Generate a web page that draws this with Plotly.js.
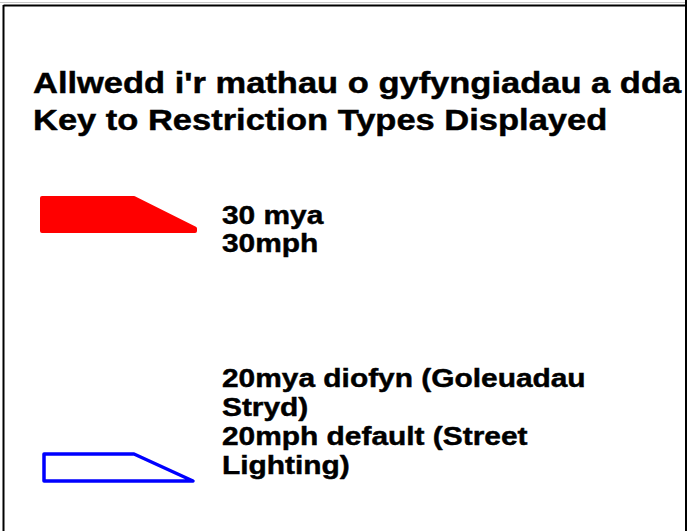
<!DOCTYPE html>
<html><head><meta charset="utf-8">
<script src="https://cdn.plot.ly/plotly-3.0.1.min.js"></script>
<style>
html,body{margin:0;padding:0;background:#fff;overflow:hidden;}
#chart{width:695px;height:531px;}
.scatterlayer path{stroke-linejoin:round;stroke-linecap:round;}
.textpoint text{transform-box:fill-box;transform-origin:0% 50%;transform:scaleX(1.15);stroke:#000;stroke-width:0.45px;}
</style></head><body><div id="chart"></div>
<script>
// ---- content of the key ----
const titleLines = ["Allwedd i'r mathau o gyfyngiadau a dda", "Key to Restriction Types Displayed"];
const titleY = [86, 123];
const restrictionTypes = ["30mph", "20mph default (Street Lighting)"];
const labelLines30 = ["30 mya", "30mph"];
const labelY30 = [217.5, 246];
const labelLines20 = ["20mya diofyn (Goleuadau", "Stryd)", "20mph default (Street", "Lighting)"];
const labelY20 = [381, 410, 439, 468];
const symbolColors = ["#ff0000", "#0000ff"];
// key symbol outlines (sample swatches as drawn in the key)
const symbol30X = [42, 134, 195, 195, 42, 42];
const symbol30Y = [198, 198, 228.5, 231, 231, 198];
const symbol20X = [44, 134, 193, 44, 44];
const symbol20Y = [454, 454, 481, 481, 454];

const FONT = "Liberation Sans, Arial, Helvetica, sans-serif";

const traces = [
  {x: symbol30X, y: symbol30Y, mode: "lines", fill: "toself", fillcolor: symbolColors[0],
   line: {color: symbolColors[0], width: 4}, name: restrictionTypes[0], hoverinfo: "skip"},
  {x: symbol20X, y: symbol20Y, mode: "lines",
   line: {color: symbolColors[1], width: 3.5}, name: restrictionTypes[1], hoverinfo: "skip"},
  {x: titleLines.map(() => 33), y: titleY, text: titleLines, mode: "text",
   textposition: "middle right", cliponaxis: true,
   textfont: {family: FONT, size: 30, color: "#000", weight: "bold"}, hoverinfo: "skip"},
  {x: labelLines30.map(() => 222), y: labelY30, text: labelLines30, mode: "text",
   textposition: "middle right",
   textfont: {family: FONT, size: 26, color: "#000", weight: "bold"}, hoverinfo: "skip"},
  {x: labelLines20.map(() => 222), y: labelY20, text: labelLines20, mode: "text",
   textposition: "middle right",
   textfont: {family: FONT, size: 26, color: "#000", weight: "bold"}, hoverinfo: "skip"}
];

const W = 695, H = 531, R = 685;
const layout = {
  width: W, height: H,
  margin: {l: 0, r: W - R, t: 0, b: 0, pad: 0},
  paper_bgcolor: "#ffffff", plot_bgcolor: "#ffffff",
  showlegend: false,
  xaxis: {range: [0, R], visible: false, fixedrange: true},
  yaxis: {range: [H, 0], visible: false, fixedrange: true},
  shapes: [
    {type: "line", xref: "paper", yref: "paper", x0: 0, x1: 1, y0: 1 - 2.5 / H, y1: 1 - 2.5 / H,
     line: {color: "#c8c8c8", width: 1}},
    {type: "line", xref: "paper", yref: "paper", x0: 3.5 / R, x1: 686.5 / R, y0: 1 - 5.5 / H, y1: 1 - 5.5 / H,
     line: {color: "#000", width: 2}},
    {type: "line", xref: "paper", yref: "paper", x0: 3.5 / R, x1: 3.5 / R, y0: 0, y1: 1 - 5 / H,
     line: {color: "#000", width: 2}},
    {type: "line", xref: "paper", yref: "paper", x0: 686 / R, x1: 686 / R, y0: 0, y1: 1,
     line: {color: "#000", width: 2}}
  ]
};

Plotly.newPlot("chart", traces, layout, {staticPlot: true, displayModeBar: false});
</script></body></html>
